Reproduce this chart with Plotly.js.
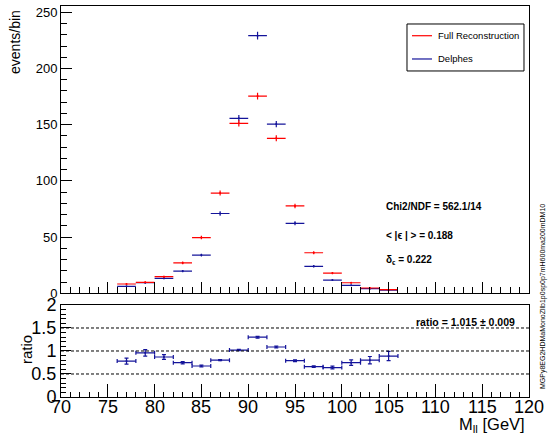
<!DOCTYPE html>
<html>
<head>
<meta charset="utf-8">
<script src="https://cdn.plot.ly/plotly-3.0.1.min.js"></script>
<style>
html,body{margin:0;padding:0;background:#fff;}
#chart{width:553px;height:434px;}
</style>
</head>
<body>
<div id="chart"></div>
<script>
// ---- data ----
const binCenters = [77, 79, 81, 83, 85, 87, 89, 91, 93, 95, 97, 99, 101, 103, 105];
const binHalfWidth = 1;
const fullReco = [8.3, 9.8, 14.8, 27.0, 49.6, 89.2, 151.2, 175.5, 137.9, 77.7, 36.1, 18.0, 9.4, 4.7, 3.2];
const fullRecoErr = [0.7, 0.7, 0.9, 1.2, 1.6, 2.2, 2.8, 3.0, 2.7, 2.0, 1.4, 1.0, 0.7, 0.5, 0.4];
const delphes = [6.2, 9.4, 13.3, 19.8, 34.0, 71.0, 155.7, 229.2, 150.6, 62.3, 24.0, 11.8, 7.1, 4.1, 2.9];
const delphesErr = [0.6, 0.7, 0.8, 1.0, 1.3, 2.0, 2.9, 3.5, 2.8, 1.8, 1.1, 0.8, 0.6, 0.5, 0.4];
const ratio = [0.78, 0.96, 0.87, 0.746, 0.674, 0.80, 1.02, 1.30, 1.087, 0.79, 0.66, 0.64, 0.746, 0.80, 0.89];
const ratioErr = [0.065, 0.07, 0.05, 0.025, 0.02, 0.012, 0.015, 0.02, 0.02, 0.02, 0.015, 0.03, 0.06, 0.08, 0.1];
const refLines = [0.5, 1, 1.5];
const xTickVals = [70, 75, 80, 85, 90, 95, 100, 105, 110, 115, 120];
const legendNames = ["Full Reconstruction", "Delphes"];
const statTexts = ["<b>Chi2/NDF = 562.1/14</b>", "<b>< |ϵ | > = 0.188</b>", "<b>δ<sub>ϵ</sub> = 0.222</b>"];
const ratioText = "<b>ratio = 1.015 ± 0.009</b>";
const sampleName = "MGPy8EG2HDMaMonoZllb1p0sp0p7mH600ma200mDM10";

const RED = '#ff0000';
const BLUE = '#14149a';
const FONT = 'Liberation Sans, Arial, Helvetica, sans-serif';

function histTrace(y, err, color, xa, ya, cap) {
  return {
    type: 'scatter', mode: 'markers', x: binCenters, y: y,
    xaxis: xa, yaxis: ya, showlegend: false, hoverinfo: 'skip',
    marker: {color: color, size: 2},
    error_x: {type: 'constant', value: binHalfWidth, color: color, thickness: 1.2, width: cap},
    error_y: {type: 'data', array: err, visible: true, color: color, thickness: 1.2, width: cap}
  };
}

const traces = [
  histTrace(delphes, delphesErr, BLUE, 'x', 'y', 0),
  histTrace(fullReco, fullRecoErr, RED, 'x', 'y', 0),
  histTrace(ratio, ratioErr, BLUE, 'x2', 'y2', 2)
];

const axBase = {
  showline: true, linecolor: '#000', linewidth: 1, mirror: true,
  showgrid: false, zeroline: false, ticks: 'inside', tickcolor: '#000',
  tickfont: {family: FONT, color: '#000'}
};

const shapes = [];
refLines.forEach(v => shapes.push({type: 'line', xref: 'x2', yref: 'y2', x0: 70, x1: 120, y0: v, y1: v,
  line: {color: '#000', width: 1, dash: '3px,2px'}}));
// legend box
shapes.push({type: 'rect', xref: 'paper', yref: 'paper', x0: 0.7393, x1: 0.9893, y0: 0.8338, y1: 0.9540,
  line: {color: '#000', width: 1}, fillcolor: '#fff', layer: 'above'});
shapes.push({type: 'line', xref: 'paper', yref: 'paper', x0: 0.750, x1: 0.7927, y0: 0.9240, y1: 0.9240,
  line: {color: RED, width: 1.2}});
shapes.push({type: 'line', xref: 'paper', yref: 'paper', x0: 0.750, x1: 0.7927, y0: 0.8645, y1: 0.8645,
  line: {color: BLUE, width: 1.2}});

const annotations = [
  {xref: 'paper', yref: 'paper', x: 0.8013, y: 0.9240, xanchor: 'left', yanchor: 'middle', showarrow: false,
   text: legendNames[0], font: {family: FONT, size: 9.5, color: '#000'}},
  {xref: 'paper', yref: 'paper', x: 0.8013, y: 0.8645, xanchor: 'left', yanchor: 'middle', showarrow: false,
   text: legendNames[1], font: {family: FONT, size: 9.5, color: '#000'}},
  {xref: 'paper', yref: 'paper', x: 0.6902, y: 0.4867, xanchor: 'left', yanchor: 'middle', showarrow: false,
   text: statTexts[0], font: {family: FONT, size: 10, color: '#000'}},
  {xref: 'paper', yref: 'paper', x: 0.6902, y: 0.4143, xanchor: 'left', yanchor: 'middle', showarrow: false,
   text: statTexts[1], font: {family: FONT, size: 10, color: '#000'}},
  {xref: 'paper', yref: 'paper', x: 0.6902, y: 0.3504, xanchor: 'left', yanchor: 'middle', showarrow: false,
   text: statTexts[2], font: {family: FONT, size: 10, color: '#000'}},
  {xref: 'paper', yref: 'paper', x: 0.9744, y: 0.1926, xanchor: 'right', yanchor: 'middle', showarrow: false,
   text: ratioText, font: {family: FONT, size: 10.5, color: '#000'}},
  {xref: 'paper', yref: 'paper', x: 1.0299, y: 0.2583, xanchor: 'center', yanchor: 'middle', showarrow: false,
   textangle: -90, text: sampleName, font: {family: FONT, size: 7, color: '#000'}},
  {xref: 'paper', yref: 'paper', x: -0.0983, y: 0.995, xanchor: 'center', yanchor: 'top', showarrow: false,
   textangle: -90, text: 'events/bin', font: {family: FONT, size: 14, color: '#000'}},
  {xref: 'paper', yref: 'paper', x: -0.0748, y: 0.1227, xanchor: 'center', yanchor: 'middle', showarrow: false,
   textangle: -90, text: 'ratio', font: {family: FONT, size: 15, color: '#000'}},
  {xref: 'paper', yref: 'paper', x: 0.9957, y: -0.042, xanchor: 'right', yanchor: 'top', showarrow: false,
   text: 'M<sub>ll</sub> [GeV]', font: {family: FONT, size: 16.5, color: '#000'}}
];
// x tick labels of the ratio panel, placed snug under the axis as in the reference
xTickVals.forEach(v => annotations.push({
  xref: 'x2', yref: 'paper', x: v, y: 0.006, xanchor: 'center', yanchor: 'top', showarrow: false,
  text: String(v), font: {family: FONT, size: 18, color: '#000'}
}));

const layout = {
  width: 553, height: 434,
  margin: {l: 61, r: 24, t: 6, b: 37, pad: 0},
  paper_bgcolor: '#fff', plot_bgcolor: '#fff',
  showlegend: false,
  xaxis: Object.assign({}, axBase, {
    domain: [0, 1], anchor: 'y', range: [70, 120], dtick: 5, tick0: 70, ticklen: 11,
    showticklabels: false, minor: {dtick: 1, ticklen: 6, ticks: 'inside', tickcolor: '#000'}
  }),
  yaxis: Object.assign({}, axBase, {
    domain: [0.2652, 1], anchor: 'x', range: [0, 255.6], dtick: 50, tick0: 0, ticklen: 11,
    tickfont: {family: FONT, size: 13, color: '#000'},
    minor: {dtick: 10, ticklen: 6, ticks: 'inside', tickcolor: '#000'}
  }),
  xaxis2: Object.assign({}, axBase, {
    domain: [0, 1], anchor: 'y2', range: [70, 120], dtick: 5, tick0: 70, ticklen: 13,
    showticklabels: false,
    minor: {dtick: 1, ticklen: 5, ticks: 'inside', tickcolor: '#000'}
  }),
  yaxis2: Object.assign({}, axBase, {
    domain: [0, 0.2353], anchor: 'x2', range: [0, 2], dtick: 0.5, tick0: 0, ticklen: 10,
    tickfont: {family: FONT, size: 18, color: '#000'},
    minor: {dtick: 0.1, ticklen: 5, ticks: 'inside', tickcolor: '#000'}
  }),
  shapes: shapes,
  annotations: annotations
};

Plotly.newPlot('chart', traces, layout, {displayModeBar: false, staticPlot: true});
</script>
</body>
</html>
